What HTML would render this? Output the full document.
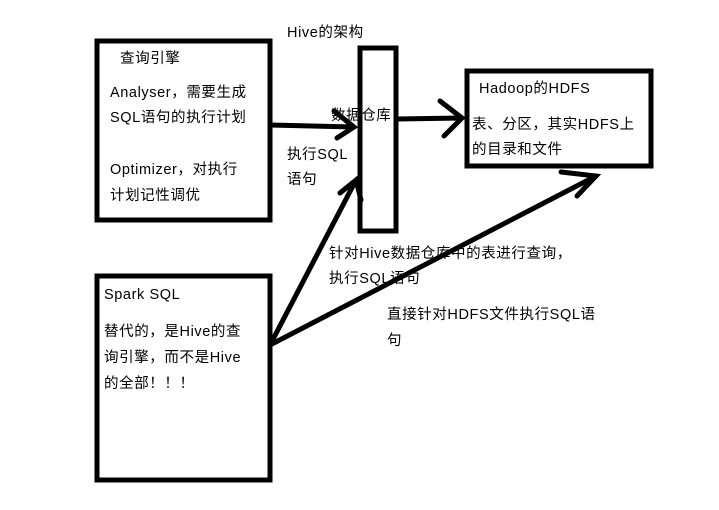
<html><head><style>
body{margin:0;background:#fff;width:719px;height:510px;position:relative;overflow:hidden;font-family:"Liberation Sans","Noto Sans CJK SC",sans-serif;font-size:14.5px;letter-spacing:0.6px;color:#000}
.t{position:absolute;white-space:nowrap;line-height:20px}
</style></head><body>
<svg width="719" height="510" style="position:absolute;left:0;top:0" stroke="#000" fill="none" stroke-linecap="round">
<rect x="97" y="41" width="173" height="179" stroke-width="5"/>
<rect x="97" y="276" width="173" height="204" stroke-width="5"/>
<rect x="360" y="48" width="36" height="183" stroke-width="5"/>
<rect x="467" y="71" width="184" height="95" stroke-width="5"/>
<g stroke-width="5">
<path d="M270 125 L354 127 M334 111 L354 127 L337 138"/>
<path d="M397 119 L462 118 M440 101 L462 118 L444 136"/>
<path d="M270 345 L356 180 M340 193 L356 180 L361 200"/>
<path d="M270 345 L596 176 M561 172 L596 176 L577 196"/>
</g>
</svg>
<div class="t" style="left:287px;top:23px">Hive的架构</div>
<div class="t" style="left:120px;top:49px">查询引擎</div>
<div class="t" style="left:110px;top:83px">Analyser，需要生成</div>
<div class="t" style="left:110px;top:108px">SQL语句的执行计划</div>
<div class="t" style="left:110px;top:160px">Optimizer，对执行</div>
<div class="t" style="left:110px;top:186px">计划记性调优</div>
<div class="t" style="left:331px;top:106px">数据仓库</div>
<div class="t" style="left:287px;top:145px">执行SQL</div>
<div class="t" style="left:287px;top:170px">语句</div>
<div class="t" style="left:479px;top:79px">Hadoop的HDFS</div>
<div class="t" style="left:472px;top:115px">表、分区，其实HDFS上</div>
<div class="t" style="left:472px;top:140px">的目录和文件</div>
<div class="t" style="left:329px;top:244px">针对Hive数据仓库中的表进行查询，</div>
<div class="t" style="left:329px;top:269px">执行SQL语句</div>
<div class="t" style="left:387px;top:305px">直接针对HDFS文件执行SQL语</div>
<div class="t" style="left:387px;top:331px">句</div>
<div class="t" style="left:104px;top:285px">Spark SQL</div>
<div class="t" style="left:104px;top:322px">替代的，是Hive的查</div>
<div class="t" style="left:104px;top:348px">询引擎，而不是Hive</div>
<div class="t" style="left:104px;top:374px">的全部！！！</div>
</body></html>
